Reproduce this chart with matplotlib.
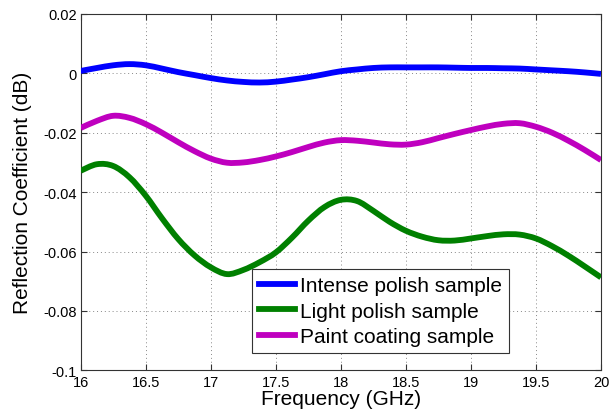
import numpy as np
import matplotlib
matplotlib.use('Agg')
import matplotlib.pyplot as plt
from matplotlib.path import Path
from matplotlib.patches import PathPatch
from matplotlib.lines import Line2D

plt.rcParams['font.family'] = ['Liberation Sans', 'DejaVu Sans']

#----- Data
freq = [16, 16.125, 16.25, 16.375, 16.5, 16.625, 16.75, 16.875, 17, 17.125, 17.25,
        17.375, 17.5, 17.625, 17.75, 17.875, 18, 18.125, 18.25, 18.375, 18.5, 18.625,
        18.75, 18.875, 19, 19.125, 19.25, 19.375, 19.5, 19.625, 19.75, 19.875, 20]
intense = [0.0008, 0.0018, 0.0027, 0.0031, 0.0027, 0.0016, 0.0004, -0.0006, -0.0016,
           -0.0024, -0.0029, -0.0031, -0.0028, -0.0021, -0.0013, -0.0003, 0.0007, 0.0013,
           0.0018, 0.0020, 0.0020, 0.0020, 0.0020, 0.0019, 0.0018, 0.0018, 0.0017, 0.0016,
           0.0013, 0.0010, 0.0007, 0.0003, -0.0002]
light = [-0.0328, -0.0306, -0.0312, -0.0350, -0.0412, -0.0488, -0.0558, -0.0613, -0.0653,
         -0.0676, -0.0662, -0.0636, -0.0603, -0.0553, -0.0496, -0.0450, -0.0426, -0.0430,
         -0.0463, -0.0500, -0.0530, -0.0550, -0.0562, -0.0563, -0.0556, -0.0548, -0.0542,
         -0.0543, -0.0556, -0.0582, -0.0614, -0.0650, -0.0687]
paint = [-0.0184, -0.0160, -0.0143, -0.0150, -0.0171, -0.0200, -0.0232, -0.0262, -0.0287,
         -0.0301, -0.0300, -0.0292, -0.0280, -0.0265, -0.0248, -0.0233, -0.0225, -0.0227,
         -0.0233, -0.0239, -0.0240, -0.0232, -0.0218, -0.0204, -0.0191, -0.0179, -0.0170,
         -0.0168, -0.0180, -0.0200, -0.0227, -0.0258, -0.0292]
labels = ['Intense polish sample', 'Light polish sample', 'Paint coating sample']
colors = ['#0000ff', '#008000', '#bf00bf']

x_ticks = [16, 16.5, 17, 17.5, 18, 18.5, 19, 19.5, 20]
x_tick_labels = ['16', '16.5', '17', '17.5', '18', '18.5', '19', '19.5', '20']
y_ticks = [0.02, 0, -0.02, -0.04, -0.06, -0.08, -0.1]
y_tick_labels = ['0.02', '0', '-0.02', '-0.04', '-0.06', '-0.08', '-0.1']

LW = 4.2


def smooth_path(x, y):
    # Catmull-Rom through the read points, drawn as cubic Bezier segments
    x = np.asarray(x, float)
    y = np.asarray(y, float)
    pts = np.column_stack([x, y])
    verts = [pts[0]]
    codes = [Path.MOVETO]
    n = len(pts)
    for i in range(n - 1):
        p0 = pts[max(i - 1, 0)]
        p1 = pts[i]
        p2 = pts[i + 1]
        p3 = pts[min(i + 2, n - 1)]
        c1 = p1 + (p2 - p0) / 6.0
        c2 = p2 - (p3 - p1) / 6.0
        verts += [c1, c2, p2]
        codes += [Path.CURVE4] * 3
    return Path(verts, codes)


#----- Plot
fig = plt.figure(figsize=(6.16, 4.14), dpi=100)
ax = fig.add_axes([0.131, 0.103, 0.8446, 0.861])

handles = []
for series, lab, col in zip([intense, light, paint], labels, colors):
    patch = PathPatch(smooth_path(freq, series), facecolor='none', edgecolor=col,
                      lw=LW, capstyle='butt', joinstyle='round', zorder=3)
    ax.add_patch(patch)
    handles.append(Line2D([], [], color=col, lw=LW, label=lab))

ax.set_xlim(16, 20)
ax.set_ylim(-0.1, 0.02)
ax.set_xticks(x_ticks)
ax.set_xticklabels(x_tick_labels)
ax.set_yticks(y_ticks)
ax.set_yticklabels(y_tick_labels)
ax.tick_params(direction='in', top=True, right=True, labelsize=10.5, length=4,
               color='#333333', pad=3)
for sp in ax.spines.values():
    sp.set_color('#333333')
    sp.set_linewidth(0.8)
ax.grid(True, linestyle=(0, (1, 3)), color='#888888', linewidth=0.7)

ax.set_xlabel('Frequency (GHz)', fontsize=15, labelpad=0)
ax.set_ylabel('Reflection Coefficient (dB)', fontsize=15, labelpad=8)

leg = ax.legend(handles=handles, loc='upper left', bbox_to_anchor=(0.329, 0.284),
                borderaxespad=0, fontsize=15, fancybox=False, edgecolor='#333333',
                framealpha=1, handlelength=1.7, handletextpad=0.25, borderpad=0.35,
                labelspacing=0.3)
leg.get_frame().set_linewidth(0.8)

plt.savefig('out.png', dpi=100)
plt.close()
